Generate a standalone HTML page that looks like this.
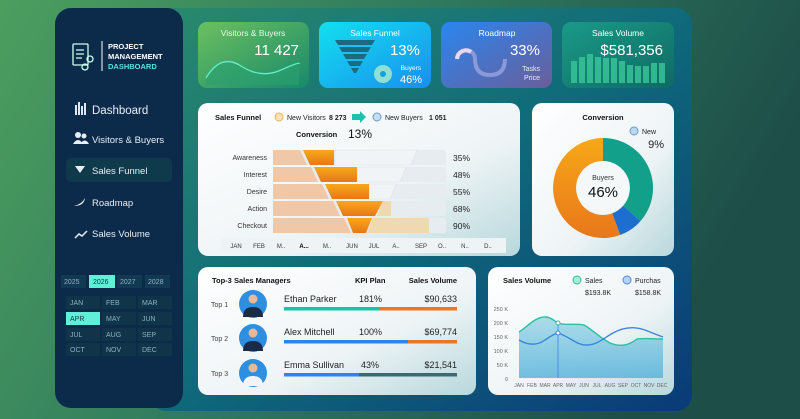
<!DOCTYPE html>
<html><head><meta charset="utf-8"><style>
html,body{margin:0;padding:0;width:800px;height:419px;overflow:hidden}
svg text{font-family:"Liberation Sans",sans-serif}
</style></head><body>
<svg width="800" height="419" viewBox="0 0 800 419" xmlns="http://www.w3.org/2000/svg">
<defs>
<linearGradient id="bg" x1="0" y1="0" x2="1" y2="0.3"><stop offset="0" stop-color="#4c9e5e"/><stop offset="0.5" stop-color="#2f7a5e"/><stop offset="1" stop-color="#1d4e48"/></linearGradient>
<linearGradient id="board" x1="0" y1="0" x2="1" y2="1"><stop offset="0" stop-color="#2a8a6c"/><stop offset="0.5" stop-color="#0f6a7a"/><stop offset="1" stop-color="#0a3a78"/></linearGradient>
<linearGradient id="c1" x1="0" y1="0" x2="1" y2="1"><stop offset="0" stop-color="#6cc060"/><stop offset="1" stop-color="#17896a"/></linearGradient>
<linearGradient id="c2" x1="0" y1="0" x2="1" y2="1"><stop offset="0" stop-color="#12e0ee"/><stop offset="1" stop-color="#1a8ef0"/></linearGradient>
<linearGradient id="c3" x1="0" y1="0" x2="1" y2="1"><stop offset="0" stop-color="#2a86ee"/><stop offset="1" stop-color="#6a5e9a"/></linearGradient>
<linearGradient id="c4" x1="0" y1="0" x2="1" y2="1"><stop offset="0" stop-color="#1a9a88"/><stop offset="1" stop-color="#0f6a62"/></linearGradient>
<linearGradient id="pan" x1="0" y1="0" x2="1" y2="1"><stop offset="0" stop-color="#ffffff"/><stop offset="0.6" stop-color="#eef4f6"/><stop offset="1" stop-color="#b8d8dc"/></linearGradient>
<linearGradient id="area" x1="0" y1="0" x2="0" y2="1"><stop offset="0" stop-color="#9fd8e6"/><stop offset="1" stop-color="#5ab4dc"/></linearGradient>
<linearGradient id="org" x1="0" y1="0" x2="0" y2="1"><stop offset="0" stop-color="#f7a818"/><stop offset="1" stop-color="#e8771a"/></linearGradient>
</defs>
<rect width="800" height="419" fill="url(#bg)"/>
<rect x="150" y="8" width="542" height="403" rx="16" fill="url(#board)"/>
<rect x="55" y="8" width="128" height="400" rx="16" fill="#0c2b4b"/>
<!-- logo -->
<g fill="none" stroke="#cfe" stroke-width="1.3"><rect x="73" y="44" width="15" height="21" rx="1"/><path d="M76 50h8M76 54h8M76 58h6"/><circle cx="90" cy="59" r="3"/><circle cx="85" cy="67" r="3"/></g>
<line x1="102" y1="41" x2="102" y2="71" stroke="#fff" stroke-width="1"/>
<text x="108" y="49" font-size="7.5" font-weight="bold" fill="#fff">PROJECT</text>
<text x="108" y="59" font-size="7.5" font-weight="bold" fill="#fff">MANAGEMENT</text>
<text x="108" y="69" font-size="7.5" font-weight="bold" fill="#5fe0e0">DASHBOARD</text>
<!-- nav -->
<g fill="#dfe8f0"><rect x="75" y="105" width="2" height="10"/><rect x="78" y="102" width="2" height="13"/><rect x="81" y="106" width="2" height="9"/><rect x="84" y="103" width="2" height="12"/></g>
<text x="92" y="114" font-size="11.5" fill="#e8eef4">Dashboard</text>
<circle cx="78" cy="135" r="3" fill="#e8eef4"/><circle cx="84" cy="136" r="2.5" fill="#e8eef4"/><path d="M73 144q5-8 10 0zM80 144q5-7 9 0z" fill="#e8eef4"/>
<text x="92" y="143" font-size="9.5" fill="#e8eef4">Visitors &amp; Buyers</text>
<rect x="66" y="158" width="106" height="24" rx="5" fill="#0f3a4c"/>
<path d="M75 166h10l-5 7z" fill="#e8eef4"/>
<text x="92" y="174" font-size="9.5" fill="#e8eef4">Sales Funnel</text>
<path d="M74 206q8-2 11-8q-1 8-11 8z" fill="#e8eef4"/>
<text x="92" y="206" font-size="9.5" fill="#e8eef4">Roadmap</text>
<path d="M75 238l4-4 3 2 5-5" stroke="#e8eef4" stroke-width="1.5" fill="none"/>
<text x="92" y="237" font-size="9.5" fill="#e8eef4">Sales Volume</text>
<!-- years -->
<g font-size="7" fill="#8fb0c4">
<rect x="61" y="275" width="25" height="13" fill="#123a52"/><text x="64" y="284">2025</text>
<rect x="89" y="275" width="26" height="13" fill="#5ff0d8"/><text x="93" y="284" fill="#0c3a4a">2026</text>
<rect x="117" y="275" width="25" height="13" fill="#123a52"/><text x="120" y="284">2027</text>
<rect x="145" y="275" width="25" height="13" fill="#123a52"/><text x="148" y="284">2028</text>
</g>
<g font-size="7" fill="#8fb0c4">
<rect x="66" y="296" width="34" height="13" fill="#113449"/><text x="70" y="305">JAN</text>
<rect x="102" y="296" width="34" height="13" fill="#113449"/><text x="106" y="305">FEB</text>
<rect x="138" y="296" width="34" height="13" fill="#113449"/><text x="142" y="305">MAR</text>
<rect x="66" y="312" width="34" height="13" fill="#5ff0d8"/><text x="70" y="321" fill="#0c3a4a">APR</text>
<rect x="102" y="312" width="34" height="13" fill="#113449"/><text x="106" y="321">MAY</text>
<rect x="138" y="312" width="34" height="13" fill="#113449"/><text x="142" y="321">JUN</text>
<rect x="66" y="328" width="34" height="13" fill="#113449"/><text x="70" y="337">JUL</text>
<rect x="102" y="328" width="34" height="13" fill="#113449"/><text x="106" y="337">AUG</text>
<rect x="138" y="328" width="34" height="13" fill="#113449"/><text x="142" y="337">SEP</text>
<rect x="66" y="343" width="34" height="13" fill="#113449"/><text x="70" y="352">OCT</text>
<rect x="102" y="343" width="34" height="13" fill="#113449"/><text x="106" y="352">NOV</text>
<rect x="138" y="343" width="34" height="13" fill="#113449"/><text x="142" y="352">DEC</text>
</g>
<!-- KPI cards -->
<rect x="198" y="22" width="111" height="66" rx="9" fill="url(#c1)"/>
<text x="253" y="36" font-size="8.5" fill="#eaf6ea" text-anchor="middle">Visitors &amp; Buyers</text>
<text x="299" y="55" font-size="15" fill="#fff" text-anchor="end">11 427</text>
<path d="M206 78q15-25 35-12t40 4t18-6V85H206z" fill="#2aa072" opacity="0.6"/>
<path d="M206 78q15-25 35-12t40 4t18-6" fill="none" stroke="#5ff0c8" stroke-width="1.3"/>
<rect x="319" y="22" width="112" height="66" rx="9" fill="url(#c2)"/>
<text x="375" y="36" font-size="8.5" fill="#fff" text-anchor="middle">Sales Funnel</text>
<g fill="#1a6a80"><path d="M335 40h40l-3 5h-34z"/><path d="M339 47h32l-3 5h-26z"/><path d="M343 54h24l-3 5h-18z"/><path d="M347 61h16l-3 5h-10z"/><path d="M351 68h8l-3 5h-2z"/></g>
<circle cx="383" cy="74" r="9" fill="#8fe0d0"/><circle cx="383" cy="74" r="3" fill="#1aa0e0"/>
<text x="420" y="55" font-size="15" fill="#fff" text-anchor="end">13%</text>
<text x="421" y="70" font-size="6.5" fill="#fff" text-anchor="end">Buyers</text>
<text x="422" y="83" font-size="11" fill="#fff" text-anchor="end">46%</text>
<rect x="441" y="22" width="111" height="66" rx="9" fill="url(#c3)"/>
<text x="497" y="36" font-size="8.5" fill="#fff" text-anchor="middle">Roadmap</text>
<path d="M457 59a9 9 0 0 1 18 0q0 16 15 16t15-16" fill="none" stroke="#8a9ad8" stroke-width="4"/>
<path d="M457 59a9 9 0 0 1 14-7" fill="none" stroke="#e8d8f0" stroke-width="4"/>
<text x="540" y="55" font-size="15" fill="#fff" text-anchor="end">33%</text>
<text x="540" y="71" font-size="7" fill="#eee" text-anchor="end">Tasks</text>
<text x="540" y="80" font-size="7" fill="#eee" text-anchor="end">Price</text>
<rect x="562" y="22" width="112" height="66" rx="9" fill="url(#c4)"/>
<text x="618" y="36" font-size="8.5" fill="#fff" text-anchor="middle">Sales Volume</text>
<text x="663" y="55" font-size="15" fill="#fff" text-anchor="end">$581,356</text>
<g fill="#3ac89a" opacity="0.8"><rect x="571" y="61" width="6" height="22"/><rect x="579" y="57" width="6" height="26"/><rect x="587" y="54" width="6" height="29"/><rect x="595" y="57" width="6" height="26"/><rect x="603" y="58" width="6" height="25"/><rect x="611" y="58" width="6" height="25"/><rect x="619" y="61" width="6" height="22"/><rect x="627" y="65" width="6" height="18"/><rect x="635" y="66" width="6" height="17"/><rect x="643" y="66" width="6" height="17"/><rect x="651" y="63" width="6" height="20"/><rect x="659" y="63" width="6" height="20"/></g>
<!-- funnel panel -->
<rect x="198" y="103" width="322" height="153" rx="10" fill="url(#pan)"/>
<text x="215" y="120" font-size="7.5" font-weight="bold" fill="#111">Sales Funnel</text>
<circle cx="279" cy="117" r="4" fill="#fde0b0" stroke="#f0b060"/>
<text x="287" y="120" font-size="7" fill="#222">New Visitors</text>
<text x="329" y="120" font-size="7" font-weight="bold" fill="#222">8 273</text>
<path d="M352 114h8v-3l6 6-6 6v-3h-8z" fill="#1ec0b0"/>
<circle cx="377" cy="117" r="4" fill="#c8dcf0" stroke="#6a9ad0"/>
<text x="385" y="120" font-size="7" fill="#222">New Buyers</text>
<text x="429" y="120" font-size="7" font-weight="bold" fill="#222">1 051</text>
<text x="296" y="137" font-size="7.5" font-weight="bold" fill="#111">Conversion</text>
<text x="348" y="138" font-size="12" fill="#111">13%</text>
<g font-size="7" fill="#333" text-anchor="end"><text x="267" y="160">Awareness</text><text x="267" y="177">Interest</text><text x="267" y="194">Desire</text><text x="267" y="211">Action</text><text x="267" y="228">Checkout</text></g>
<g font-size="8.5" fill="#222"><text x="453" y="161">35%</text><text x="453" y="178">48%</text><text x="453" y="195">55%</text><text x="453" y="212">68%</text><text x="453" y="229">90%</text></g>
<g fill="#e6ecef"><rect x="273" y="150" width="173" height="15" rx="2"/><rect x="273" y="167" width="173" height="15" rx="2"/><rect x="273" y="184" width="173" height="15" rx="2"/><rect x="273" y="201" width="173" height="15" rx="2"/><rect x="273" y="218" width="173" height="15" rx="2"/></g>
<g fill="#f0f4f6" stroke="#dde4e8" stroke-width="0.6"><path d="M335 150h82l-6 15h-76z"/><path d="M357 167h49l-6 15h-43z"/><path d="M369 184h27l-6 15h-21z"/></g>
<g fill="#f0c8a8"><path d="M273 150h27l7 15h-34z"/><path d="M273 167h38l7 15h-45z"/><path d="M273 184h49l7 15h-56z"/><path d="M273 201h60l7 15h-67z"/><path d="M273 218h71l7 15h-78z"/><path d="M383 201h8v15h-14z" fill="#f0d8b0"/><path d="M373 218h56v15h-62z" fill="#f0d8b0"/></g>
<g fill="url(#org)"><path d="M303 150h31v15h-24z"/><path d="M314 167h43v15h-36z"/><path d="M325 184h44v15h-37z"/><path d="M336 201h47l-8 15h-32z"/><path d="M347 218h25l-6 15h-13z"/></g>
<rect x="221" y="238" width="285" height="15" fill="#eef3f5"/>
<g font-size="6" fill="#333" text-anchor="middle"><text x="236" y="248">JAN</text><text x="259" y="248">FEB</text><text x="281" y="248">M..</text><text x="304" y="248" font-weight="bold" fill="#000">A...</text><text x="327" y="248">M..</text><text x="352" y="248">JUN</text><text x="374" y="248">JUL</text><text x="396" y="248">A..</text><text x="421" y="248">SEP</text><text x="442" y="248">O..</text><text x="465" y="248">N..</text><text x="488" y="248">D..</text></g>
<!-- conversion -->
<rect x="532" y="103" width="142" height="153" rx="10" fill="url(#pan)"/>
<text x="603" y="120" font-size="7.5" font-weight="bold" fill="#111" text-anchor="middle">Conversion</text>
<circle cx="634" cy="131" r="4" fill="#bcd8ee" stroke="#6a9ad0"/>
<text x="642" y="134" font-size="7" fill="#222">New</text>
<text x="664" y="148" font-size="11" fill="#222" text-anchor="end">9%</text>
<g transform="translate(603,188)">
<path d="M0 -50A50 50 0 0 1 37.5 33.1L20.2 17.8A27 27 0 0 0 0 -27z" fill="#13a08a"/>
<path d="M37.5 33.1A50 50 0 0 1 17.1 47L9.2 25.4A27 27 0 0 0 20.2 17.8z" fill="#1e6ed0"/>
<path d="M17.1 47A50 50 0 1 1 0 -50L0 -27A27 27 0 1 0 9.2 25.4z" fill="url(#org)"/>
<circle r="26" fill="#f4f8f9"/>
<text y="-8" font-size="7" fill="#333" text-anchor="middle">Buyers</text>
<text y="9" font-size="15" fill="#111" text-anchor="middle">46%</text>
</g>
<!-- top 3 -->
<rect x="198" y="267" width="278" height="128" rx="10" fill="url(#pan)"/>
<text x="212" y="283" font-size="7.5" font-weight="bold" fill="#111">Top-3 Sales Managers</text>
<text x="355" y="283" font-size="7.5" font-weight="bold" fill="#111">KPI Plan</text>
<text x="457" y="283" font-size="7.5" font-weight="bold" fill="#111" text-anchor="end">Sales Volume</text>
<g font-size="7" fill="#444"><text x="211" y="307">Top 1</text><text x="211" y="341">Top 2</text><text x="211" y="376">Top 3</text></g>
<g><circle cx="253" cy="304" r="14" fill="#2e8ee0"/><circle cx="253" cy="299" r="4.5" fill="#e8b898"/><path d="M243 317q0-10 10-10t10 10z" fill="#1a2a48"/>
<circle cx="253" cy="338" r="14" fill="#2e8ee0"/><circle cx="253" cy="333" r="4.5" fill="#e8b898"/><path d="M243 351q0-10 10-10t10 10z" fill="#1a2a48"/>
<circle cx="253" cy="373" r="14" fill="#2e8ee0"/><circle cx="253" cy="368" r="4.5" fill="#e8b898"/><path d="M243 386q0-10 10-10t10 10z" fill="#f4f4f8"/></g>
<g font-size="9" fill="#222"><text x="284" y="302">Ethan Parker</text><text x="359" y="302">181%</text><text x="457" y="302" text-anchor="end">$90,633</text>
<text x="284" y="335">Alex Mitchell</text><text x="359" y="335">100%</text><text x="457" y="335" text-anchor="end">$69,774</text>
<text x="284" y="368">Emma Sullivan</text><text x="361" y="368">43%</text><text x="457" y="368" text-anchor="end">$21,541</text></g>
<rect x="284" y="307" width="96" height="3.5" fill="#1ec0a8"/><rect x="380" y="307" width="77" height="3.5" fill="#e8772a"/>
<rect x="284" y="340" width="124" height="3.5" fill="#2a86ee"/><rect x="408" y="340" width="49" height="3.5" fill="#e8772a"/>
<rect x="284" y="373" width="75" height="3.5" fill="#2a86ee"/><rect x="359" y="373" width="98" height="3.5" fill="#3a6a74"/>
<!-- sales volume -->
<rect x="488" y="267" width="186" height="128" rx="10" fill="url(#pan)"/>
<text x="503" y="283" font-size="7.5" font-weight="bold" fill="#111">Sales Volume</text>
<circle cx="577" cy="280" r="4" fill="#a8ecd8" stroke="#2ac0a0"/><text x="585" y="283" font-size="7" fill="#222">Sales</text>
<text x="585" y="295" font-size="7" fill="#222">$193.8K</text>
<circle cx="627" cy="280" r="4" fill="#b8d0f4" stroke="#4a8ae0"/><text x="635" y="283" font-size="7" fill="#222">Purchas</text>
<text x="635" y="295" font-size="7" fill="#222">$158.8K</text>
<g font-size="5.5" fill="#666" text-anchor="end"><text x="508" y="311">250 K</text><text x="508" y="325">200 K</text><text x="508" y="339">150 K</text><text x="508" y="353">100 K</text><text x="508" y="367">50 K</text><text x="508" y="381">0</text></g>
<path d="M519 332C527 327 535 317 545 317C553 317 557 324 558 323C566 326 574 323 584 325C593 330 600 338 610 343C620 347 628 346 637 339C645 338 655 339 663 339V378H519z" fill="url(#area)" opacity="0.85"/>
<path d="M519 332C527 327 535 317 545 317C553 317 557 324 558 323C566 326 574 323 584 325C593 330 600 338 610 343C620 347 628 346 637 339C645 338 655 339 663 339" fill="none" stroke="#2ac0a0" stroke-width="1.4"/>
<path d="M519 340C527 345 537 346 545 340C552 335 557 333 558 333C570 337 578 346 587 345C597 345 604 338 613 333C624 327 634 326 645 330C655 334 660 336 663 337" fill="none" stroke="#3a86e0" stroke-width="1.4"/>
<line x1="558" y1="323" x2="558" y2="378" stroke="#3a86e0" stroke-width="0.8"/>
<circle cx="558" cy="323" r="2" fill="#fff" stroke="#2ac0a0"/><circle cx="558" cy="333" r="2" fill="#fff" stroke="#3a86e0"/>
<g font-size="5" fill="#666" text-anchor="middle"><text x="519" y="387">JAN</text><text x="532" y="387">FEB</text><text x="545" y="387">MAR</text><text x="558" y="387">APR</text><text x="571" y="387">MAY</text><text x="584" y="387">JUN</text><text x="597" y="387">JUL</text><text x="610" y="387">AUG</text><text x="623" y="387">SEP</text><text x="636" y="387">OCT</text><text x="649" y="387">NOV</text><text x="662" y="387">DEC</text></g>
</svg>
</body></html>
